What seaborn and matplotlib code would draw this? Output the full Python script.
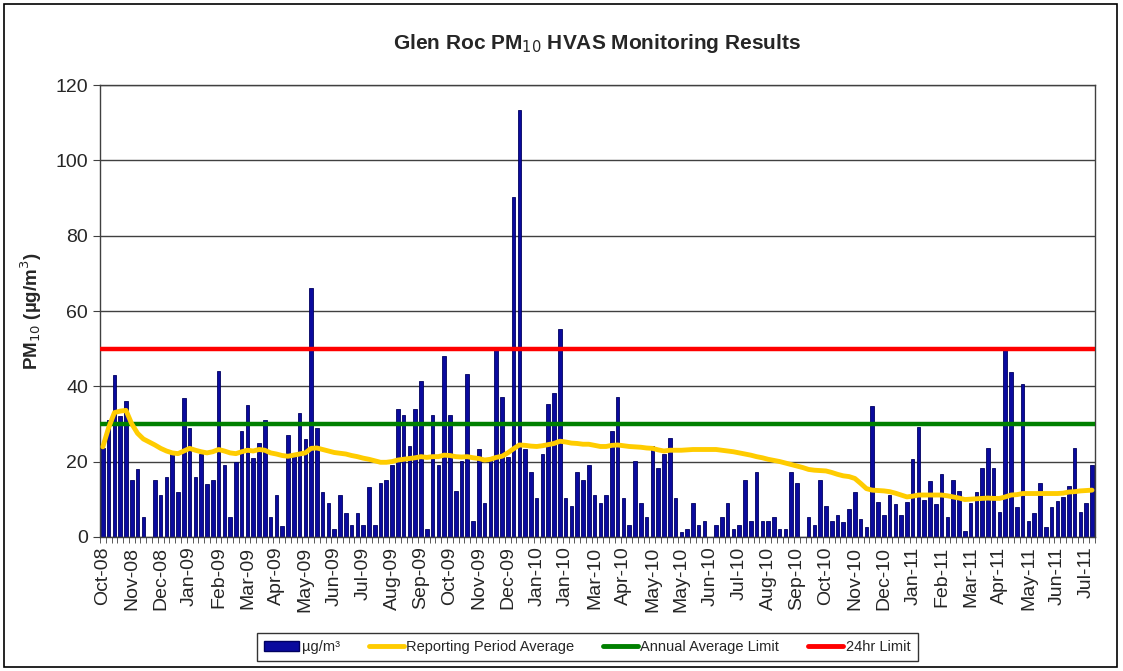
import numpy as np
import pandas as pd
import matplotlib
matplotlib.use("Agg")
import matplotlib.pyplot as plt
import seaborn as sns
from matplotlib.patches import Patch, Rectangle
from matplotlib.lines import Line2D

# [Data]=====================================================================================
# PM10 24hr samples (ug/m3), one per sampling run, Oct-08 .. Jul-11
pm10 = [
    23.5, 31, 43, 32, 36, 15, 18, 5.3, 0, 15,
    11, 16, 22, 12, 37, 29, 16, 22, 14, 15,
    44, 19, 5.3, 20, 28, 35, 21, 25, 31, 5.3,
    11, 3, 27, 22, 33, 26, 66, 29, 12, 9,
    2, 11, 6.2, 3.1, 6.2, 3.1, 13.3, 3.1, 14.2, 15,
    19, 34, 32.3, 24, 34, 41.4, 2.2, 32.3, 19.2, 48,
    32.3, 12.1, 20.2, 43.2, 4.2, 23.2, 9, 20.2, 49.8, 37.2,
    21.3, 90.2, 113.4, 23.2, 17.3, 10.2, 22.1, 35.4, 38.3, 55.3,
    10.2, 8.2, 17.3, 15, 19.2, 11.2, 9, 11.2, 28.2, 37.2,
    10.2, 3.1, 20.2, 9, 5.3, 24, 18.2, 22.1, 26.3, 10.2,
    1.2, 2.2, 9, 3.1, 4.2, 0, 3.1, 5.3, 9, 2.2,
    3.1, 15, 4.2, 17.3, 4.2, 4.2, 5.3, 2.2, 2.2, 17.3,
    14.2, 0, 5.3, 3.1, 15, 8.2, 4.2, 5.8, 3.8, 7.4,
    11.8, 4.6, 2.7, 34.7, 9.3, 5.8, 11.2, 8.6, 5.8, 9.3,
    20.8, 29.2, 9.9, 14.8, 8.6, 16.8, 5.3, 15, 12.1, 1.6,
    8.9, 11.8, 18.3, 23.5, 18.3, 6.5, 49.6, 43.7, 8, 40.7,
    4.2, 6.2, 14.3, 2.7, 8, 9.6, 10.6, 13.6, 23.7, 6.5,
    9, 19.2,
]

# Reporting period average
period_avg = [
    23.9, 29, 33, 33.4, 33.6, 30, 27.5, 26, 25.2, 24.4,
    23.5, 22.8, 22.3, 22.1, 22.8, 23.5, 23, 22.6, 22.3, 22.6,
    23.2, 22.8, 22.3, 22.1, 22.6, 23, 22.8, 23.2, 23, 22.3,
    22, 21.6, 21.4, 21.7, 22, 22.3, 23.5, 23.6, 23.2, 22.8,
    22.4, 22.2, 22, 21.6, 21.3, 20.9, 20.6, 20.2, 19.8, 19.8,
    20, 20.4, 20.6, 20.8, 21, 21.3, 21.1, 21.3, 21.3, 21.7,
    21.6, 21.3, 21.2, 21.3, 21, 20.8, 20.4, 20.6, 21.1, 21.4,
    22.3, 23.4, 24.4, 24.3, 24.1, 24, 24.2, 24.5, 24.8, 25.4,
    25.2, 24.9, 24.8, 24.6, 24.6, 24.3, 24, 24, 24.3, 24.4,
    24.2, 24, 23.9, 23.8, 23.6, 23.5, 23.1, 22.8, 23, 23,
    23, 23.1, 23.2, 23.2, 23.2, 23.2, 23.2, 23, 22.8, 22.6,
    22.3, 22, 21.7, 21.3, 21, 20.6, 20.3, 20, 19.6, 19.2,
    18.8, 18.4, 17.9, 17.7, 17.6, 17.5, 17.1, 16.6, 16.2, 16,
    15.5, 14.2, 12.8, 12.4, 12.3, 12.2, 12, 11.6, 11.1, 10.6,
    10.8, 11.1, 11.1, 11.1, 11.1, 11.1, 10.9, 10.6, 10.3, 9.9,
    10, 10.1, 10.2, 10.3, 10.2, 10.2, 10.6, 11.1, 11.2, 11.5,
    11.5, 11.5, 11.5, 11.5, 11.5, 11.5, 11.6, 11.9, 12, 12.2,
    12.3, 12.4,
]

month_labels = [
    "Oct-08", "Nov-08", "Dec-08", "Jan-09", "Feb-09", "Mar-09", "Apr-09",
    "May-09", "Jun-09", "Jul-09", "Aug-09", "Sep-09", "Oct-09", "Nov-09",
    "Dec-09", "Jan-10", "Jan-10", "Mar-10", "Apr-10", "May-10", "May-10",
    "Jun-10", "Jul-10", "Aug-10", "Sep-10", "Oct-10", "Nov-10", "Dec-10",
    "Jan-11", "Feb-11", "Mar-11", "Apr-11", "May-11", "Jun-11", "Jul-11",
]

annual_limit = 30
daily_limit = 50

# [Plot]=====================================================================================
df = pd.DataFrame({"run": np.arange(len(pm10)), "pm10": pm10, "avg": period_avg})

sns.set_style("white")
plt.rcParams["font.family"] = ["Liberation Sans", "DejaVu Sans"]

fig = plt.figure(figsize=(11.23, 6.71), dpi=100)
ax = fig.add_axes([0.089, 0.2, 0.886, 0.673])

ax.set_axisbelow(True)
ax.yaxis.grid(True, color="#404040", linewidth=1)

sns.barplot(data=df, x="run", y="pm10", color="#0A0A9E", width=0.62,
            edgecolor="#000060", linewidth=0.6, saturation=1, ax=ax)
ax.axhline(annual_limit, color="#008000", linewidth=3.2, zorder=3)
ax.axhline(daily_limit, color="#FF0000", linewidth=3.2, zorder=3)
sns.lineplot(data=df, x="run", y="avg", color="#FFCC00", linewidth=3.5,
             zorder=4, ax=ax)

n = len(pm10)
ax.set_xlim(-0.5, n - 0.5)
ax.set_ylim(0, 120)
ax.set_yticks(np.arange(0, 121, 20))
ax.tick_params(axis="y", labelsize=14, length=5, direction="out", left=True,
               color="#404040")

ax.set_xticks(np.arange(0, n, 5))
ax.set_xticklabels(month_labels, rotation=90, fontsize=14)
ax.set_xticks(np.arange(-0.5, n, 1), minor=True)
ax.tick_params(axis="x", which="major", length=0, pad=7)
ax.tick_params(axis="x", which="minor", length=4, direction="out", bottom=True,
               color="#404040")

for side in ax.spines.values():
    side.set_color("#404040")
    side.set_linewidth(1)

ax.set_xlabel("")
ax.set_ylabel("PM$_{10}$ (µg/m$^3$)", fontsize=13.5, fontweight="bold", labelpad=8)
ax.set_title("Glen Roc PM$_{10}$ HVAS Monitoring Results", fontsize=15,
             fontweight="bold", pad=26)

handles = [
    Patch(facecolor="#0A0A9E", edgecolor="#000060"),
    Line2D([], [], color="#FFCC00", linewidth=3.5),
    Line2D([], [], color="#008000", linewidth=3.5),
    Line2D([], [], color="#FF0000", linewidth=3.5),
]
labels = ["µg/m³", "Reporting Period Average", "Annual Average Limit", "24hr Limit"]
leg = fig.legend(handles, labels, loc="center", bbox_to_anchor=(0.523, 0.0358),
                 ncol=4, fontsize=10.5, frameon=True, fancybox=False,
                 edgecolor="black", handlelength=2.4, handletextpad=0.15,
                 columnspacing=2.0, borderpad=0.5)
leg.get_frame().set_linewidth(1)

fig.add_artist(Rectangle((0.004, 0.006), 0.991, 0.988, transform=fig.transFigure,
                         fill=False, edgecolor="black", linewidth=1.2))

fig.savefig("out.png", dpi=100)
